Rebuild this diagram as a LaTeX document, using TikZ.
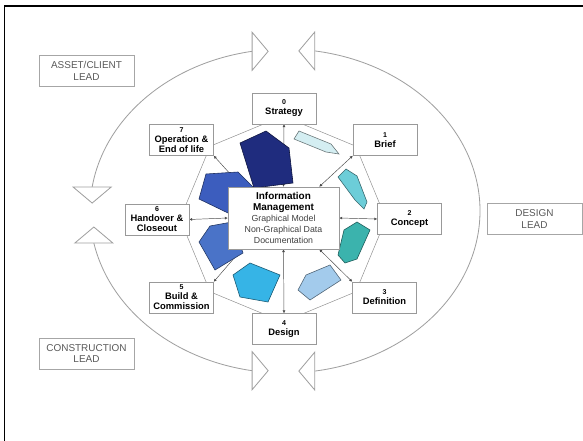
\documentclass[tikz,border=0pt]{standalone}
\usepackage{fontspec}
\setmainfont{Liberation Sans}
\usepackage{tikz}
\usetikzlibrary{arrows.meta,backgrounds}

\definecolor{paleblue}{HTML}{D4EEF2}
\definecolor{cyanish}{HTML}{6CCDD8}
\definecolor{tealish}{HTML}{3BB3AD}
\definecolor{skylight}{HTML}{A3CBEC}
\definecolor{skyblue}{HTML}{36B4E6}
\definecolor{midblue}{HTML}{4A73C8}
\definecolor{deepblue}{HTML}{3C5DBE}
\definecolor{navyish}{HTML}{1F2C7E}

\newcommand\stageno[1]{{\fontsize{6}{7}\selectfont #1}}

\begin{document}
\begin{tikzpicture}[x=0.3mm,y=-0.3mm,
  stage/.style={draw=gray!80,fill=white,minimum width=19.2mm,minimum height=9.3mm,
    inner sep=1pt,align=center,font=\fontsize{8}{8.5}\selectfont\bfseries},
  lead/.style={draw=gray!70,line width=0.8pt,fill=white,minimum width=28.5mm,
    minimum height=9.3mm,align=center,text=black!65,font=\fontsize{8.5}{10}\selectfont},
  spoke/.style={{Latex[length=2.5pt,width=2.5pt]}-{Latex[length=2.5pt,width=2.5pt]},
    gray!60!black,thin},
  leadarc/.style={gray!75,line width=0.7pt},
  leadtip/.style={draw=gray!75,line width=0.7pt,fill=white,line join=miter},
  piece/.style={fill=#1,draw=#1!50!black,line width=0.5pt}]
\useasboundingbox (0,0) rectangle (583,441);
\draw[line width=1.5pt] (4.5,441) -- (4.5,6) -- (583,6);

% the eight stages round the centre
\node[stage] (strategy) at (284,108.5) {\stageno{0}\\Strategy};
\node[stage] (brief) at (385,140) {\stageno{1}\\Brief};
\node[stage] (concept) at (409.5,219) {\stageno{2}\\Concept};
\node[stage] (definition) at (384.5,297.5) {\stageno{3}\\Definition};
\node[stage] (design) at (284,329) {\stageno{4}\\Design};
\node[stage] (build) at (181.5,297.5) {\stageno{5}\\Build \&\\Commission};
\node[stage] (handover) at (157,219.5) {\stageno{6}\\Handover \&\\Closeout};
\node[stage] (operation) at (181.5,140) {\stageno{7}\\Operation \&\\End of life};

\node[draw=gray!80,fill=white,minimum width=33.3mm,minimum height=18.6mm,align=center,
  inner sep=1pt,font=\fontsize{7.5}{9.5}\selectfont] (infomgmt) at (283.5,218)
  {{\fontsize{8.5}{9.5}\selectfont\bfseries Information}\\
   {\fontsize{8.5}{9.5}\selectfont\bfseries Management}\\
   {\color{black!75}Graphical Model}\\
   {\color{black!75}Non-Graphical Data}\\
   {\color{black!75}Documentation}};

\begin{scope}[on background layer]
\draw[black!45] (386,219) -- (355.8,146.2) -- (283,116) -- (210.2,146.2)
  -- (180,219) -- (210.2,291.8) -- (283,322) -- (355.8,291.8) -- cycle;
\draw[spoke] (infomgmt.north) -- (strategy.south);
\draw[spoke] ([xshift=-6mm]infomgmt.north east) -- (brief.south west);
\draw[spoke] (infomgmt.east) -- (concept.west);
\draw[spoke] ([xshift=-6mm]infomgmt.south east) -- (definition.north west);
\draw[spoke] (infomgmt.south) -- (design.north);
\draw[spoke] ([xshift=4.2mm]infomgmt.south west) -- (build.north east);
\draw[spoke] (infomgmt.west) -- (handover.east);
\draw[spoke] ([xshift=4.2mm]infomgmt.north west) -- (operation.south east);
% growing pieces
\draw[piece=paleblue] (299,131) -- (331,144) -- (339,154) -- (326,152) -- (294,139) -- cycle;
\draw[piece=cyanish] (338,177) -- (346,169) -- (357,176) -- (367,202) -- (364,209) -- (355,200) -- cycle;
\draw[piece=tealish] (338,255) -- (344,230) -- (357,222) -- (370,230) -- (357,259) -- (345,263) -- cycle;
\draw[piece=skylight] (298,290) -- (306,275) -- (330,265) -- (341,280) -- (310,300) -- cycle;
\draw[piece=skyblue] (233,275) -- (250,263) -- (280,275) -- (268,302) -- (240,297) -- cycle;
\draw[piece=midblue] (199,242) -- (210,226) -- (232,222) -- (243,253) -- (215,270) -- cycle;
\draw[piece=deepblue] (199,199) -- (206,174) -- (238,172) -- (254,188) -- (228,213) -- cycle;
\draw[piece=navyish] (240,143) -- (266,131) -- (289,148) -- (293,183) -- (254,188) -- cycle;
\end{scope}

% who leads
\path (285,211) ++(188.5:195 and 162) coordinate (assetA)
      (285,211) ++(260.3:195 and 162) coordinate (assetB)
      (285,211) ++(-81.2:195 and 162) coordinate (designA)
      (285,211) ++(81.2:195 and 162) coordinate (designB)
      (285,211) ++(99.7:195 and 162) coordinate (buildA)
      (285,211) ++(168.6:195 and 162) coordinate (buildB);
\draw[leadarc] (assetA) arc[start angle=188.5,end angle=260.3,x radius=195,y radius=162];
\draw[leadarc] (designA) arc[start angle=-81.2,end angle=81.2,x radius=195,y radius=162];
\draw[leadarc] (buildA) arc[start angle=99.7,end angle=168.6,x radius=195,y radius=162];
\draw[leadtip] (assetB) ++(0,-19) -- ++(16,19) -- ++(-16,19) -- cycle;
\draw[leadtip] (designA) ++(0,-19) -- ++(-16,19) -- ++(16,19) -- cycle;
\draw[leadtip] (assetA) ++(-19,0) -- ++(19,16) -- ++(19,-16) -- cycle;
\draw[leadtip] (buildB) ++(-19,0) -- ++(19,-16) -- ++(19,16) -- cycle;
\draw[leadtip] (buildA) ++(0,-19) -- ++(16,19) -- ++(-16,19) -- cycle;
\draw[leadtip] (designB) ++(0,-19) -- ++(-16,19) -- ++(16,19) -- cycle;

\node[lead] (assetlead) at (86.5,71) {ASSET/CLIENT\\LEAD};
\node[lead] (constructlead) at (86.5,353.5) {CONSTRUCTION\\LEAD};
\node[lead] (designlead) at (534.5,219) {DESIGN\\LEAD};
\end{tikzpicture}
\end{document}
